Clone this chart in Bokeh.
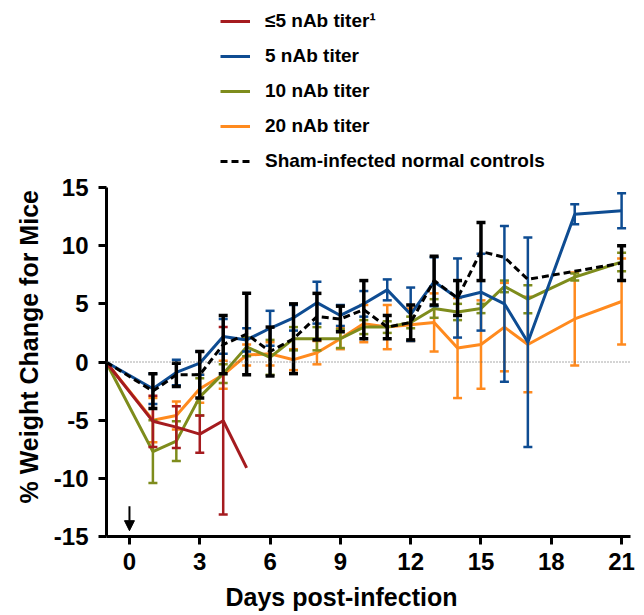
import numpy as np
from bokeh.plotting import figure
from bokeh.layouts import column
from bokeh.models import Span, Arrow, NormalHead, FixedTicker, Legend, LegendItem, Title
from bokeh.embed import file_html
from bokeh.resources import INLINE

# ---------------- data ----------------
red_days = [-1, 1, 2, 3, 4, 5]
red_mean = [0, -5.1, -5.6, -6.2, -5.05, -9.1]
red_err = [0, 2.2, 1.8, 1.6, 8.05, 0]

blue_days = [-1, 1, 2, 3, 4, 5, 6, 7, 8, 9, 10, 11, 12, 13, 14, 15, 16, 17, 19, 21]
blue_mean = [0, -2.3, -0.9, -0.1, 2.2, 1.9, 2.9, 3.8, 5.1, 4.0, 5.0, 6.2, 4.1, 6.9, 5.5, 6.0, 5.0, 1.7, 12.7, 13.0]
blue_err = [0, 1.3, 1.1, 1.0, 1.5, 1.0, 1.5, 1.1, 1.8, 0.9, 1.1, 0.9, 2.3, 2.1, 3.4, 3.3, 6.7, 9.0, 0.85, 1.5]

olive_days = [-1, 1, 2, 3, 4, 5, 6, 7, 8, 9, 10, 11, 12, 13, 14, 15, 16, 17, 19, 21]
olive_mean = [0, -7.7, -6.8, -3.0, -1.0, 1.3, 0.4, 2.0, 2.0, 2.0, 3.0, 3.0, 3.4, 4.6, 4.3, 4.6, 6.5, 5.4, 7.3, 8.6]
olive_err = [0, 2.7, 1.7, 1.6, 0.8, 0.8, 1.5, 1.0, 1.0, 0.8, 0.6, 0.5, 0.5, 0.8, 0.7, 0.4, 0.5, 1.2, 0.3, 0.8]

orange_days = [-1, 1, 2, 3, 4, 5, 6, 7, 8, 9, 10, 11, 12, 13, 14, 15, 16, 17, 19, 21]
orange_mean = [0, -5.0, -4.6, -2.3, -1.1, 0.6, 0.7, 0.2, 0.8, 2.0, 3.3, 3.0, 3.2, 3.4, 1.2, 1.5, 3.0, 1.5, 3.7, 5.2]
orange_err = [0, 1.9, 1.2, 1.2, 1.2, 0.9, 1.0, 0.9, 1.0, 0.9, 1.6, 1.9, 1.4, 2.5, 4.3, 3.8, 3.8, 4.1, 4.0, 3.7]

sham_days = [-1, 1, 2, 3, 4, 5, 6, 7, 8, 9, 10, 11, 12, 13, 14, 15, 16, 17, 21]
sham_mean = [0, -2.5, -1.1, -1.1, 1.5, 2.4, 0.9, 2.0, 3.9, 3.7, 4.5, 3.0, 3.4, 7.0, 5.5, 9.5, 9.0, 7.1, 8.5]
sham_err = [0, 1.5, 1.0, 2.0, 2.5, 3.5, 2.1, 3.0, 2.0, 1.1, 2.5, 1.0, 1.5, 2.1, 1.5, 2.5, 0, 0, 1.5]

labels = ["\u22645 nAb titer\u00b9", "5 nAb titer", "10 nAb titer", "20 nAb titer",
          "Sham-infected normal controls"]

y_ticks = [-15, -10, -5, 0, 5, 10, 15]
y_tick_labels = ["-15", "-10", "-5", "0", "5", "10", "15"]
x_ticks = [0, 3, 6, 9, 12, 15, 18, 21]
infection_day = 0

FONT = "Liberation Sans"

styles = {
    "red": dict(color="#A51B1F", dash="solid", ew=2.5),
    "blue": dict(color="#0E4C92", dash="solid", ew=2.5),
    "olive": dict(color="#7E8C1C", dash="solid", ew=2.5),
    "orange": dict(color="#FF8A1E", dash="solid", ew=2.5),
    "black": dict(color="black", dash="7 4", ew=3.5),
}
data = {
    "red": (red_days, red_mean, red_err, labels[0]),
    "blue": (blue_days, blue_mean, blue_err, labels[1]),
    "olive": (olive_days, olive_mean, olive_err, labels[2]),
    "orange": (orange_days, orange_mean, orange_err, labels[3]),
    "black": (sham_days, sham_mean, sham_err, labels[4]),
}
order_legend = ["red", "blue", "olive", "orange", "black"]

# ---------------- legend strip (above plot) ----------------
lf = figure(width=644, height=173, x_range=(0, 1), y_range=(0, 1),
            x_axis_type=None, y_axis_type=None, output_backend="svg",
            toolbar_location=None, min_border_left=106, min_border_right=14,
            min_border_top=0, min_border_bottom=0)
lf.outline_line_color = None
leg_items = []
for k in order_legend:
    st = styles[k]
    r = lf.line([float("nan")], [float("nan")], line_color=st["color"], line_width=3,
                line_dash=st["dash"])
    leg_items.append(LegendItem(label=data[k][3], renderers=[r]))
legend = Legend(items=leg_items, location=(114, 1), orientation="vertical",
                label_text_font=FONT, label_text_font_style="bold", label_text_font_size="19px",
                label_text_color="black", glyph_width=30, glyph_height=20, label_height=20,
                label_standoff=15, spacing=13, padding=0, margin=0,
                background_fill_alpha=0, border_line_color=None)
lf.add_layout(legend)

# ---------------- main figure ----------------
p = figure(frame_width=524, frame_height=349, x_range=(-0.98, 21.38), y_range=(-15, 15),
           output_backend="svg", toolbar_location=None,
           min_border_left=106, min_border_right=14, min_border_top=14, min_border_bottom=79)
p.outline_line_color = None
p.xgrid.visible = False
p.ygrid.visible = False

p.add_layout(Span(location=0, dimension="width", line_color="#555555",
                  line_width=1, line_dash="1 2"))

for key in ["orange", "olive", "blue", "red", "black"]:
    d, m, e, lab = data[key]
    st = styles[key]
    d = np.array(d, dtype=float)
    m = np.array(m, dtype=float)
    e = np.array(e, dtype=float)
    p.line(d, m, line_color=st["color"], line_width=3, line_dash=st["dash"])
    mask = e > 0
    p.segment(d[mask], m[mask] - e[mask], d[mask], m[mask] + e[mask],
              line_color=st["color"], line_width=st["ew"])
    p.dash(d[mask], m[mask] + e[mask], size=9, line_color=st["color"], line_width=st["ew"])
    p.dash(d[mask], m[mask] - e[mask], size=9, line_color=st["color"], line_width=st["ew"])

p.add_layout(Arrow(end=NormalHead(size=10, fill_color="black", line_color="black"),
                   x_start=infection_day, y_start=-12.4, x_end=infection_day, y_end=-14.5,
                   line_color="black", line_width=2))

for ax in (p.xaxis[0], p.yaxis[0]):
    ax.axis_line_width = 3
    ax.axis_line_color = "black"
    ax.major_tick_line_width = 3
    ax.major_tick_line_color = "black"
    ax.major_tick_out = 8
    ax.major_tick_in = 0
    ax.minor_tick_line_color = None
    ax.major_label_text_font = FONT
    ax.major_label_text_font_style = "bold"
    ax.major_label_text_font_size = "24px"
    ax.major_label_text_color = "black"

p.xaxis.ticker = FixedTicker(ticks=x_ticks)
p.yaxis.ticker = FixedTicker(ticks=y_ticks)
p.yaxis.major_label_overrides = {t: s for t, s in zip(y_ticks, y_tick_labels)}
p.xaxis.major_label_standoff = 8
p.yaxis.major_label_standoff = 10

ytitle = Title(text="% Weight Change for Mice", align="left", offset=33, standoff=15,
               text_font=FONT, text_font_style="bold", text_font_size="25px", text_color="black")
p.add_layout(ytitle, "left")
xtitle = Title(text="Days post-infection", align="left", offset=119, standoff=17,
               text_font=FONT, text_font_style="bold", text_font_size="25px", text_color="black")
p.add_layout(xtitle, "below")

layout = column(lf, p, spacing=0)
open("out.html", "w").write(file_html(layout, INLINE))
